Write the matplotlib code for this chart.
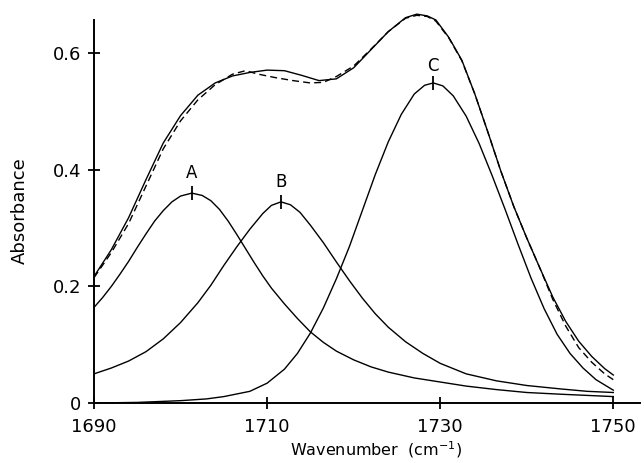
import matplotlib.pyplot as plt

# band A
a_x = [1690, 1691, 1692, 1693, 1694, 1695, 1696, 1697, 1698, 1699,
       1700, 1701.3, 1702.5, 1703.5, 1704.5, 1705.5, 1706.5, 1707.5, 1708.5, 1709.5,
       1710.5, 1712, 1713.5, 1715, 1716.5, 1718, 1720, 1722, 1724, 1727,
       1730, 1733, 1736.5, 1740, 1744, 1747, 1750]
a_y = [0.164, 0.181, 0.200, 0.221, 0.243, 0.267, 0.290, 0.312, 0.330, 0.345,
       0.355, 0.360, 0.356, 0.347, 0.332, 0.312, 0.289, 0.265, 0.241, 0.218,
       0.197, 0.170, 0.145, 0.122, 0.104, 0.089, 0.074, 0.062, 0.053, 0.043,
       0.036, 0.029, 0.023, 0.018, 0.015, 0.013, 0.011]

# band B
b_x = [1690, 1692, 1694, 1696, 1698, 1700, 1702, 1703.5, 1705, 1706.5,
       1708, 1709.5, 1710.5, 1711.6, 1712.7, 1713.8, 1715, 1716.5, 1718, 1719.5,
       1721, 1722.5, 1724, 1726, 1728, 1730, 1733, 1736.5, 1740, 1744,
       1747, 1750]
b_y = [0.050, 0.060, 0.072, 0.088, 0.110, 0.138, 0.172, 0.202, 0.236, 0.268,
       0.298, 0.325, 0.339, 0.345, 0.340, 0.327, 0.305, 0.275, 0.242, 0.210,
       0.180, 0.153, 0.130, 0.105, 0.085, 0.068, 0.050, 0.038, 0.030, 0.024,
       0.020, 0.018]

# band C
c_x = [1690, 1695, 1700, 1703, 1705, 1708, 1710, 1712, 1713.5, 1715,
       1716.5, 1718, 1719.5, 1721, 1722.5, 1724, 1725.5, 1727, 1728.2, 1729.2,
       1730.3, 1731.5, 1733, 1734.5, 1736, 1737.5, 1739, 1740.5, 1742, 1743.5,
       1745, 1746.5, 1748, 1750]
c_y = [0.000, 0.001, 0.004, 0.007, 0.011, 0.020, 0.034, 0.058, 0.085, 0.120,
       0.163, 0.213, 0.268, 0.330, 0.392, 0.448, 0.495, 0.530, 0.545, 0.549,
       0.544, 0.527, 0.492, 0.445, 0.390, 0.332, 0.272, 0.214, 0.162, 0.118,
       0.085, 0.060, 0.040, 0.022]

# sum of fitted bands
fit_x = [1690, 1692, 1694, 1696, 1698, 1700, 1702, 1704, 1706, 1708,
         1710, 1712, 1714, 1716, 1718, 1720, 1722, 1724, 1726, 1727.3,
         1728.5, 1729.5, 1731, 1732.5, 1734, 1735.5, 1737, 1738.5, 1740, 1741.5,
         1743, 1744.5, 1746, 1747.5, 1749, 1750]
fit_y = [0.217, 0.263, 0.318, 0.383, 0.446, 0.493, 0.528, 0.549, 0.561, 0.567,
         0.571, 0.570, 0.562, 0.553, 0.556, 0.575, 0.606, 0.637, 0.661, 0.667,
         0.664, 0.657, 0.627, 0.588, 0.530, 0.465, 0.398, 0.337, 0.283, 0.232,
         0.182, 0.140, 0.106, 0.080, 0.059, 0.048]

# measured spectrum (dashed)
obs_x = [1690, 1692, 1694, 1696, 1698, 1700, 1702, 1704, 1706, 1707.5,
         1709, 1711, 1713, 1715, 1716.5, 1718, 1720, 1722, 1724, 1726,
         1727.3, 1728.5, 1729.5, 1731, 1732.5, 1734, 1735.5, 1737, 1738.5, 1740,
         1741.5, 1743, 1744.5, 1746, 1747.5, 1749, 1750]
obs_y = [0.215, 0.258, 0.308, 0.372, 0.436, 0.484, 0.520, 0.546, 0.564, 0.570,
         0.564, 0.558, 0.553, 0.549, 0.550, 0.560, 0.578, 0.607, 0.637, 0.660,
         0.665, 0.663, 0.655, 0.626, 0.587, 0.530, 0.465, 0.398, 0.337, 0.283,
         0.232, 0.178, 0.132, 0.095, 0.070, 0.050, 0.040]

# peak marks and labels
peak_names = ['A', 'B', 'C']
peak_x = [1701.3, 1711.6, 1729.2]
peak_y = [0.360, 0.345, 0.549]
label_y = [0.395, 0.379, 0.578]

x_ticks = [1690, 1710, 1730, 1750]
y_ticks = [0, 0.2, 0.4, 0.6]
y_ticklabels = ['0', '0.2', '0.4', '0.6']

fig = plt.figure(figsize=(6.44, 4.63), dpi=100)
ax = fig.add_axes([0.146, 0.1296, 0.848, 0.8445])

lw = 1.0
ax.plot(a_x, a_y, color='black', linewidth=lw)
ax.plot(b_x, b_y, color='black', linewidth=lw)
ax.plot(c_x, c_y, color='black', linewidth=lw)
ax.plot(fit_x, fit_y, color='black', linewidth=lw)
ax.plot(obs_x, obs_y, color='black', linewidth=lw, linestyle=(0, (5, 3)))

ax.plot(peak_x, peak_y, linestyle='none', marker='|', markersize=10,
        markeredgewidth=1.3, color='black')
for name, px, py in zip(peak_names, peak_x, label_y):
    ax.text(px, py, name, ha='center', va='center', fontsize=12)

ax.set_xlim(1690, 1753.1)
ax.set_ylim(0, 0.6707)

for side in ['top', 'right']:
    ax.spines[side].set_visible(False)
for side in ['left', 'bottom']:
    ax.spines[side].set_linewidth(1.4)
ax.spines['left'].set_bounds(0, 0.657)

ax.set_xticks(x_ticks)
ax.set_xticklabels([str(t) for t in x_ticks])
ax.set_yticks(y_ticks)
ax.set_yticklabels(y_ticklabels)
ax.tick_params(axis='both', direction='inout', length=8, width=1.3, labelsize=13)
ax.tick_params(axis='x', pad=7)
ax.tick_params(axis='y', pad=5)

ax.set_xlabel('Wavenumber  (cm$^{-1}$)', fontsize=11.5)
ax.set_ylabel('Absorbance', fontsize=13)
ax.xaxis.set_label_coords((376 - 94) / 546, -0.120)
ax.xaxis.label.set_va('center')
ax.yaxis.set_label_coords((20 - 94) / 546, 0.491)
ax.yaxis.label.set_va('center')

plt.savefig('out.png', dpi=100)
